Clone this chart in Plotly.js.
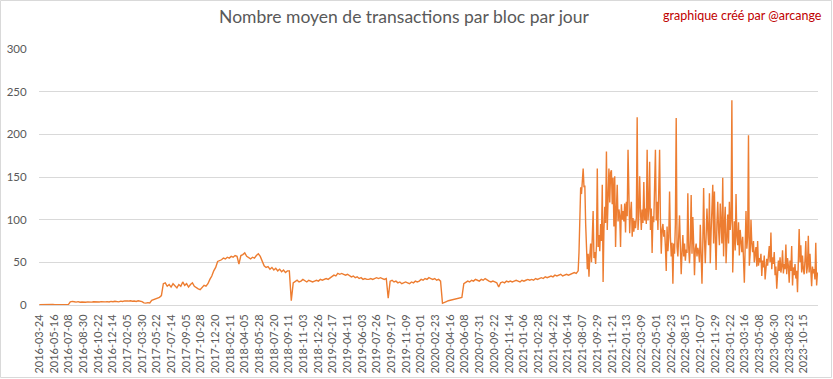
<!DOCTYPE html>
<html>
<head>
<meta charset="utf-8">
<script src="https://cdn.plot.ly/plotly-3.0.1.min.js"></script>
<style>
html,body{margin:0;padding:0;background:#fff;}
#chart{width:833px;height:379px;}
</style>
</head>
<body>
<div id="chart"></div>
<script>
// Weekly readings, 2016-03-24 to 2021-07-15 (one value every 7 days)
const weeklyStart = '2016-03-24';
const weeklyStepDays = 7;
const weeklyValues = [
  0.4,0.5,0.4,0.3,0.5,0.4,0.4,0.5,0.3,0.4,0.5,0.4,0.4,0.5,0.4,0.5,
  3.6,4.2,3.8,3.4,3.9,3.2,3.5,3.0,3.3,3.6,3.1,3.4,3.8,3.5,3.2,3.6,3.9,3.4,3.7,4.0,3.6,4.2,3.8,4.4,4.1,3.7,4.5,4.2,4.8,4.3,4.6,5.0,4.4,4.7,4.2,4.9,4.5,4.0,
  2.5,2.2,2.8,2.4,
  5.5,6.5,7.5,8.5,9,11,
  25,
  26,22,24,21,25,23,20,24,22,27,23,25,21,24,26,22,20,19,18,21,23,22,25,
  30,34,40,44,51,52,
  53,55,54,56,55,57,56,58,57,48,58,59,61,57,55,54,56,55,58,60,57,52,
  46,44,45,42,44,41,43,40,42,39,41,38,40,40,
  5,
  26,28,29,27,28,30,28,27,29,28,27,28,29,28,30,29,30,31,30,32,33,35,34,37,36,
  37,36,35,36,34,33,34,32,33,31,32,30,31,30,30,
  31,30,31,32,31,32,31,30,31,
  8,
  28,29,27,28,26,27,25,26,27,26,25,27,26,28,27,28,30,29,31,30,32,31,30,31,29,30,28,
  2,3.5,4,5,5.5,6,7,7,8,8,9,
  25,27,28,27,29,28,30,29,28,30,29,31,29,28,27,28,27,26,
  21,
  26,27,26,28,27,28,27,28,29,28,27,29,28,29,30,29,
  30,29,31,30,31,32,31,33,32,33,34,33,35,34,35,36,34,35,36,35,
  36,37,38,37
];

// Readings every 3 days, 2021-07-22 to 2023-12-03
const recentStart = '2021-07-22';
const recentStepDays = 3;
const recentValues = [
  40,62,112,138,130,148,160,138,140,95,
  55,42,60,33,58,72,50,78,110,55,
  62,48,70,160,68,82,63,95,75,141,
  27,88,115,96,180,88,123,160,120,155,
  158,118,149,92,151,68,112,141,98,112,
  105,68,118,100,110,98,119,85,121,104,
  182,99,84,108,121,80,102,86,99,90,
  102,220,88,105,151,110,88,112,96,144,
  99,113,95,182,99,113,168,88,113,61,
  104,97,151,182,99,121,88,159,182,99,
  60,88,95,80,88,68,40,92,63,79,
  133,80,57,73,25,72,60,95,219,68,
  57,80,105,68,36,62,82,57,72,52,
  65,61,131,68,49,76,129,60,103,72,
  35,66,72,57,67,62,50,94,55,25,
  70,137,78,49,80,113,88,70,131,49,
  85,122,141,72,133,80,41,95,121,88,
  70,119,90,72,149,57,95,115,49,92,
  106,72,121,88,100,240,38,70,98,64,
  130,80,70,97,58,88,73,62,80,52,
  26,68,110,66,80,199,46,60,100,72,
  62,75,50,60,68,45,75,46,55,50,
  60,34,52,44,58,30,40,54,46,62,
  69,50,85,42,56,48,62,35,45,19,
  34,52,40,56,38,45,64,37,48,42,
  71,36,55,46,26,52,40,69,23,44,
  35,48,31,40,15,55,89,50,70,38,
  58,42,36,52,75,37,45,81,38,60,
  33,22,45,37,42,30,73,23,38
];

const tickDates = [
  '2016-03-24','2016-05-16','2016-07-08','2016-08-30','2016-10-22','2016-12-14',
  '2017-02-05','2017-03-30','2017-05-22','2017-07-14','2017-09-05','2017-10-28','2017-12-20',
  '2018-02-11','2018-04-05','2018-05-28','2018-07-20','2018-09-11','2018-11-03','2018-12-26',
  '2019-02-17','2019-04-11','2019-06-03','2019-07-26','2019-09-17','2019-11-09',
  '2020-01-01','2020-02-23','2020-04-16','2020-06-08','2020-07-31','2020-09-22','2020-11-14',
  '2021-01-06','2021-02-28','2021-04-22','2021-06-14','2021-08-07','2021-09-29','2021-11-21',
  '2022-01-13','2022-03-09','2022-05-01','2022-06-23','2022-08-15','2022-10-07','2022-11-29',
  '2023-01-22','2023-03-16','2023-05-08','2023-06-30','2023-08-23','2023-10-15'
];
const yTicks = [0,50,100,150,200,250,300];

const titleText = 'Nombre moyen de transactions par bloc par jour';
const creditText = 'graphique créé par @arcange';

function datesFrom(start, step, n){
  const t0 = Date.parse(start + 'T00:00:00Z');
  const out = [];
  for(let i=0;i<n;i++){
    out.push(new Date(t0 + i*step*86400000).toISOString().slice(0,10));
  }
  return out;
}

const x = datesFrom(weeklyStart, weeklyStepDays, weeklyValues.length)
  .concat(datesFrom(recentStart, recentStepDays, recentValues.length));
const y = weeklyValues.concat(recentValues);

const FONT = 'Lato, "Open Sans", sans-serif';
const GREY = '#595959';

const plotL = 39, plotR = 818, plotT = 49, plotB = 305;
const pw = plotR - plotL, ph = plotB - plotT;

const layout = {
  width: 833, height: 379,
  margin: {l: plotL, r: 833 - plotR, t: plotT, b: 379 - plotB, pad: 0},
  paper_bgcolor: '#ffffff',
  plot_bgcolor: '#ffffff',
  showlegend: false,
  font: {family: FONT, color: GREY},
  title: {
    text: titleText,
    font: {family: FONT, size: 17.5, color: GREY},
    xref: 'container', x: 404/833, xanchor: 'center',
    yref: 'container', y: 1 - 17/379, yanchor: 'middle'
  },
  xaxis: {
    type: 'date',
    range: ['2016-03-23', '2023-12-05'],
    tickvals: tickDates,
    tickformat: '%Y-%m-%d',
    tickangle: -90,
    tickfont: {family: FONT, size: 11, color: GREY},
    ticks: 'outside', ticklen: 4, tickcolor: 'rgba(0,0,0,0)',
    showgrid: false,
    showline: false,
    zeroline: false,
    fixedrange: true
  },
  yaxis: {
    range: [0, 300],
    tickvals: yTicks,
    tickfont: {family: FONT, size: 11.5, color: GREY},
    ticks: 'outside', ticklen: 9, tickcolor: 'rgba(0,0,0,0)',
    showgrid: true, gridcolor: '#d9d9d9', gridwidth: 1,
    zeroline: true, zerolinecolor: '#d9d9d9', zerolinewidth: 1,
    showline: false,
    fixedrange: true
  },
  annotations: [{
    text: creditText,
    xref: 'paper', yref: 'paper',
    x: (742 - plotL)/pw, y: (plotB - 15)/ph,
    xanchor: 'center', yanchor: 'middle',
    showarrow: false,
    font: {family: FONT, size: 12.5, color: '#c00000'}
  }],
  shapes: [{
    type: 'rect', xref: 'paper', yref: 'paper',
    x0: (0.5 - plotL)/pw, x1: (831.5 - plotL)/pw,
    y0: (plotB - 377.5)/ph, y1: (plotB - 0.5)/ph,
    line: {color: '#d9d9d9', width: 1},
    fillcolor: 'rgba(0,0,0,0)',
    layer: 'below'
  }]
};

Plotly.newPlot('chart', [{
  type: 'scatter', mode: 'lines',
  x: x, y: y,
  line: {color: '#ED7D31', width: 1.4},
  hoverinfo: 'x+y'
}], layout, {staticPlot: true, displayModeBar: false});
</script>
</body>
</html>
